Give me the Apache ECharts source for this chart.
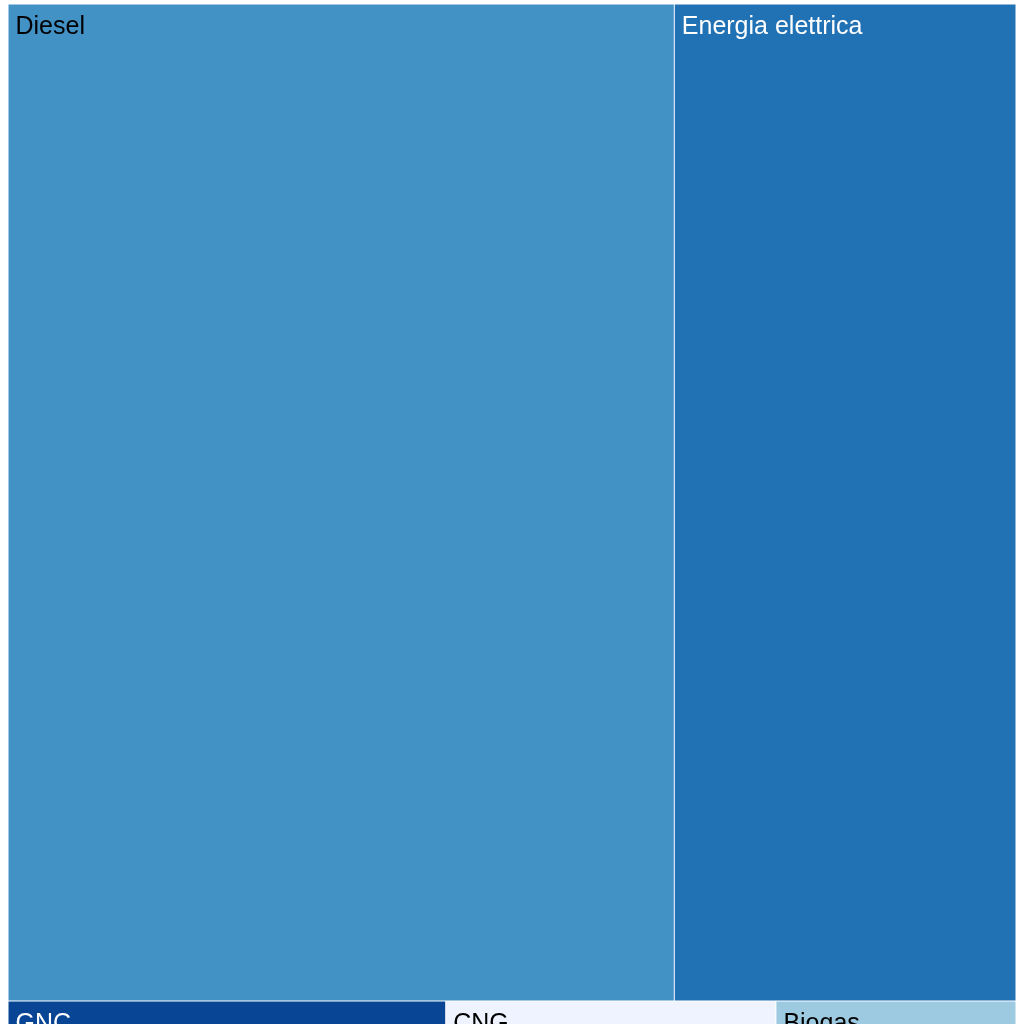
<!DOCTYPE html>
<html>
<head>
<meta charset="utf-8">
<script src="https://cdn.jsdelivr.net/npm/echarts@6/dist/echarts.min.js"></script>
<style>
html,body{margin:0;padding:0;background:#fff;overflow:hidden;}
#chart{width:1024px;height:1024px;}
</style>
</head>
<body>
<div id="chart"></div>
<script>
const categories = ["Diesel", "Energia elettrica", "GNC", "CNG", "Biogas"];
const values = [663, 340, 17.5, 13.2, 9.6];
const fillColors = ["#4292c6", "#2171b5", "#084594", "#eff3ff", "#9ecae1"];
const textColors = ["#000000", "#ffffff", "#ffffff", "#000000", "#000000"];

const data = categories.map((c, i) => ({
  name: c,
  value: values[i],
  itemStyle: { color: fillColors[i] },
  label: { color: textColors[i] }
}));

const chart = echarts.init(document.getElementById('chart'), null, {renderer: 'canvas'});
chart.setOption({
  animation: false,
  series: [{
    type: 'treemap',
    left: 7.5,
    top: 3.5,
    width: 1009,
    height: 1038,
    roam: false,
    nodeClick: false,
    breadcrumb: { show: false },
    sort: false,
    squareRatio: 0.5 * (1 + Math.sqrt(5)),
    itemStyle: { borderColor: '#ffffff', borderWidth: 0.5, gapWidth: 0 },
    label: {
      show: true,
      position: [2, 5],
      fontFamily: 'Liberation Sans, Arial, sans-serif',
      fontSize: 25,
      formatter: '{b}'
    },
    upperLabel: { show: false },
    emphasis: { disabled: true },
    data: data
  }]
});
</script>
</body>
</html>
